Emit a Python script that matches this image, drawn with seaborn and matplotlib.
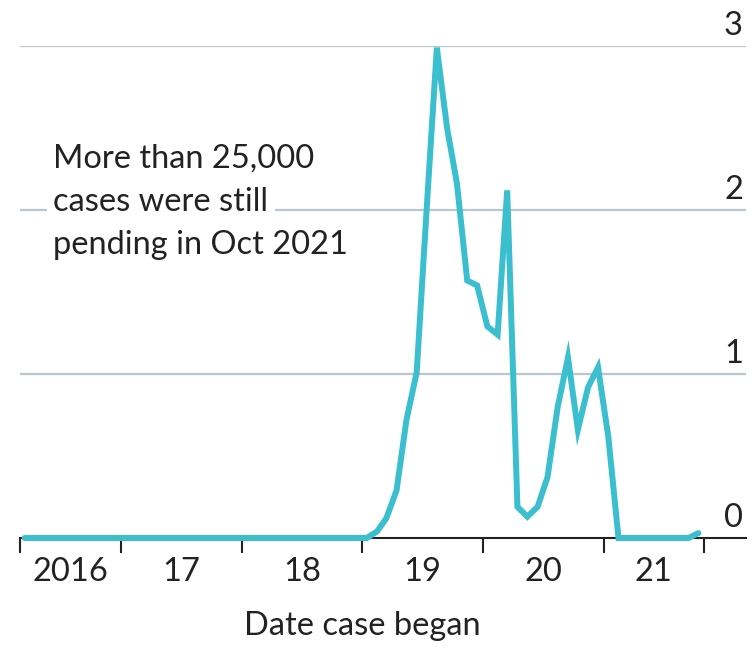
import matplotlib
matplotlib.use("Agg")
import matplotlib.pyplot as plt
import matplotlib.transforms as mtransforms
import numpy as np
import pandas as pd
import seaborn as sns

# ---- data (monthly, Mar 2016 - Oct 2021), value in '000 cases ----
zeros_2016_2018 = [0.0] * 34
values_2019 = [0.0, 0.04, 0.12, 0.29, 0.72, 1.01, 2.0, 2.99, 2.5, 2.16, 1.57, 1.54]
values_2020 = [1.29, 1.24, 2.12, 0.19, 0.13, 0.19, 0.37, 0.8, 1.10, 0.66, 0.92, 1.04]
values_2021 = [0.62, 0.0, 0.0, 0.0, 0.0, 0.0, 0.0, 0.0, 0.0, 0.03]
values = zeros_2016_2018 + values_2019 + values_2020 + values_2021
months = pd.date_range("2016-03-01", "2021-10-01", freq="MS")
year_labels = ["2016", "17", "18", "19", "20", "21"]
y_ticks = [0, 1, 2, 3]
annotation_lines = ["More than 25,000", "cases were still", "pending in Oct 2021"]
x_title = "Date case began"

df = pd.DataFrame({"date": months + pd.Timedelta(days=14), "cases": values})

sns.set_style("white")
plt.rcParams["font.family"] = ["Lato", "DejaVu Sans"]

LINE = "#3bbfcf"
GRID = "#b9c6cf"
DARK = "#222222"
FS = 23.5

fig = plt.figure(figsize=(7.54, 6.46), dpi=100)
W, H = 754, 646
ax = fig.add_axes([20 / W, (H - 538) / H, (746 - 20) / W, (538 - 46) / H])

sns.lineplot(data=df, x="date", y="cases", ax=ax, color=LINE, linewidth=4.3,
             zorder=4)
for l in ax.lines:
    l.set_solid_joinstyle("miter")
    l.set_clip_on(False)

x0 = pd.Timestamp("2016-03-01")
x1 = pd.Timestamp("2022-03-08")
ax.set_xlim(x0, x1)
ax.set_ylim(0, 3)

# gridlines
for v in y_ticks[1:]:
    ax.axhline(v, color=GRID, linewidth=1.6, zorder=1)
# y labels above gridlines at the right
off = mtransforms.offset_copy(ax.get_yaxis_transform(), fig=fig, x=-3, y=11, units="dots")
for v in y_ticks:
    ax.text(1.0, v, str(v), transform=off, ha="right", va="baseline",
            fontsize=FS, color=DARK)
ax.set_yticks([])

# x ticks
major = [x0] + [pd.Timestamp(f"{y}-01-01") for y in range(2017, 2022)] + [pd.Timestamp("2021-11-01")]
ax.set_xticks(major)
ax.set_xticklabels([""] * len(major))
mids = [major[i] + (major[i + 1] - major[i]) / 2 for i in range(len(major) - 1)]
ax.set_xticks(mids, minor=True)
ax.set_xticklabels(year_labels, minor=True, fontsize=FS, color=DARK)
ax.tick_params(axis="x", which="major", direction="out", length=11, width=1.5,
               color=DARK, bottom=True)
ax.tick_params(axis="x", which="minor", length=0, pad=14, bottom=True)

for s in ["top", "left", "right"]:
    ax.spines[s].set_visible(False)
ax.spines["bottom"].set_color(DARK)
ax.spines["bottom"].set_linewidth(1.5)
ax.spines["bottom"].set_zorder(3)

ax.set_xlabel(x_title, fontsize=FS, color=DARK)
ax.xaxis.label.set_va("baseline")
ax.xaxis.set_label_coords((362 - 20) / 726, -(635 - 538) / 492)
ax.set_ylabel("")

# annotation, one white-backed line at a time
anchor_x = pd.Timestamp("2016-06-10")
anchor_y = 3 - (168 - 46) / 164
for i, txt in enumerate(annotation_lines):
    tr = mtransforms.offset_copy(ax.transData, fig=fig, x=0, y=-43 * i, units="dots")
    ax.text(anchor_x, anchor_y, txt, transform=tr, fontsize=FS, color=DARK,
            ha="left", va="baseline", zorder=5,
            bbox=dict(facecolor="white", edgecolor="none", pad=5))

fig.savefig("out.png", dpi=100)
